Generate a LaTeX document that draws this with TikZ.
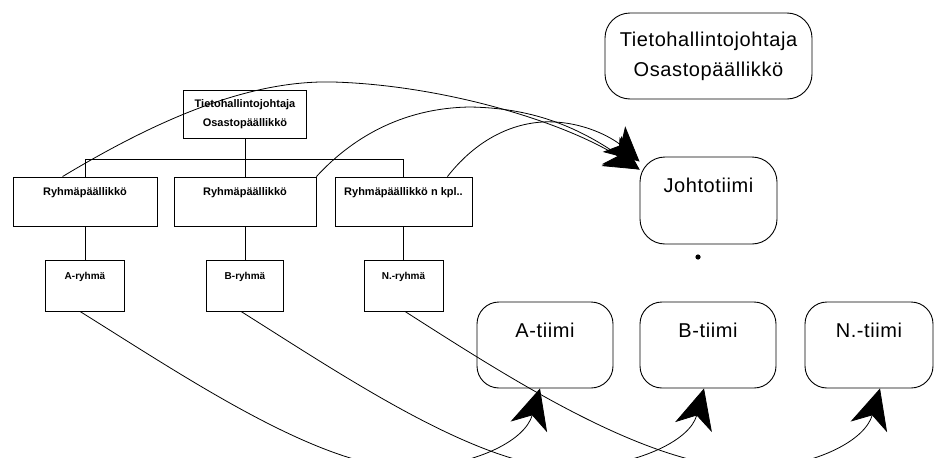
\documentclass[tikz,border=0pt]{standalone}
\usepackage{fontspec}
\setmainfont{Liberation Sans}
\newfontfamily\bigfont[LetterSpace=3]{Liberation Sans}
\usetikzlibrary{arrows.meta}

\begin{document}
\begin{tikzpicture}[x=1pt, y=-1pt, line width=0.9pt,
  orgbox/.style={draw, rectangle, inner sep=0pt},
  teambox/.style={draw, rectangle, rounded corners=22pt, inner sep=0pt},
  smalltxt/.style={font=\fontsize{11}{19}\selectfont\bfseries},
  grouptxt/.style={font=\fontsize{10}{12}\selectfont\bfseries},
  bigtxt/.style={font=\bigfont\fontsize{20}{30}\selectfont},
  flow/.style={line width=0.8pt},
  uparrow/.style={flow, -{Stealth[length=40pt, width=38pt, inset=12pt]}},
  toparrow/.style={flow, -{Stealth[length=34pt, width=34pt, inset=9pt]}}
]
\clip (0,0) rectangle (935,458);

% organisation chart
\node[orgbox, smalltxt, align=center, minimum width=123pt, minimum height=48pt] (chief) at (245,114) {Tietohallintojohtaja\\Osastopäällikkö};

\node[orgbox, minimum width=144pt, minimum height=49pt,
  label={[smalltxt, yshift=8.5pt]center:Ryhmäpäällikkö}] (r1) at (85,201.5) {};
\node[orgbox, minimum width=142pt, minimum height=49pt,
  label={[smalltxt, yshift=8.5pt]center:Ryhmäpäällikkö}] (r2) at (245,201.5) {};
\node[orgbox, minimum width=137pt, minimum height=49pt,
  label={[smalltxt, yshift=8.5pt]center:Ryhmäpäällikkö n kpl..}] (r3) at (403.5,201.5) {};

\node[orgbox, minimum width=79pt, minimum height=51pt,
  label={[grouptxt, yshift=8.5pt]center:A-ryhmä}] (gA) at (85,285.5) {};
\node[orgbox, minimum width=77pt, minimum height=51pt,
  label={[grouptxt, yshift=8.5pt]center:B-ryhmä}] (gB) at (245,285.5) {};
\node[orgbox, minimum width=79pt, minimum height=51pt,
  label={[grouptxt, yshift=8.5pt]center:N.-ryhmä}] (gN) at (403.5,285.5) {};

\coordinate (bar) at (0,159);
\draw (chief.south) -- (r2.north);
\draw (r1.north) -- (r1.north |- bar) -- (r3.north |- bar) -- (r3.north);
\draw (r1.south) -- (gA.north);
\draw (r2.south) -- (gB.north);
\draw (r3.south) -- (gN.north);

% team organisation
\node[teambox, rounded corners=25pt, bigtxt, align=center, minimum width=207pt, minimum height=86pt] (head) at (708.5,56) {Tietohallintojohtaja\\Osastopäällikkö};
\node[teambox, rounded corners=25pt, minimum width=137pt, minimum height=87pt,
  label={[bigtxt, yshift=15.5pt]center:Johtotiimi}] (jt) at (708.5,200.5) {};
\node[teambox, minimum width=136pt, minimum height=86pt,
  label={[bigtxt, yshift=15pt]center:A-tiimi}] (tA) at (545,345) {};
\node[teambox, minimum width=136pt, minimum height=86pt,
  label={[bigtxt, yshift=15pt]center:B-tiimi}] (tB) at (708,345) {};
\node[teambox, minimum width=128pt, minimum height=86pt,
  label={[bigtxt, yshift=15pt]center:N.-tiimi}] (tN) at (869,345) {};

\fill (698,257) circle (2.6pt);

% group leaders join the management team
\draw[toparrow] ([xshift=50pt]r1.north west) .. controls (160,118) and (250,80) .. (333,82)
  .. controls (440,85) and (560,120) .. ([yshift=-13pt]jt.north west);
\draw[toparrow] (r2.north east) .. controls (350,140) and (400,108) .. (470,107)
  .. controls (530,108) and (575,125) .. ([yshift=-13pt]jt.north west);
\draw[toparrow] ([xshift=-25pt]r3.north east) .. controls (480,135) and (520,120) .. (555,122)
  .. controls (590,124) and (615,140) .. ([yshift=-5pt]jt.north west);

% groups become teams
\draw[uparrow] ([xshift=-5pt]gA.south) .. controls (190,380) and (330,475) .. (420,468)
  .. controls (480,463) and (525,440) .. ([xshift=-5pt]tA.south);
\draw[uparrow] ([xshift=-4pt]gB.south) .. controls (350,380) and (490,475) .. (582,468)
  .. controls (642,463) and (690,440) .. ([xshift=-4pt]tB.south);
\draw[uparrow] ([xshift=1.5pt]gN.south) .. controls (520,385) and (660,475) .. (765,468)
  .. controls (820,463) and (865,440) .. ([xshift=11pt]tN.south);
\end{tikzpicture}
\end{document}
